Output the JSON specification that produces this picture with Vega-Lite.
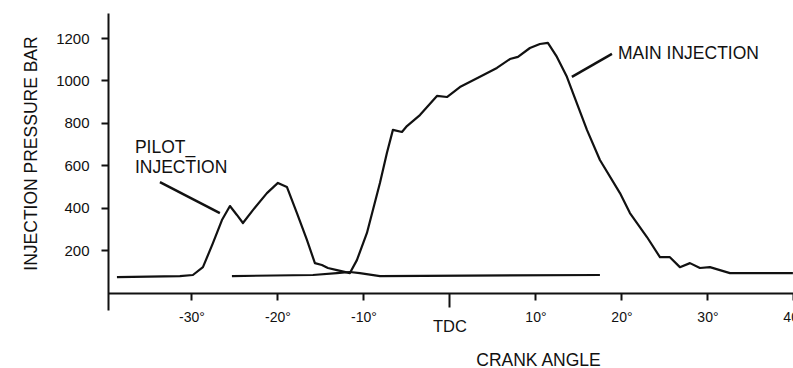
{
  "$schema": "https://vega.github.io/schema/vega-lite/v6.json",
  "width": 688,
  "height": 297,
  "autosize": {"type": "none"},
  "padding": {"left": 108, "top": 13, "right": 0, "bottom": 58},
  "background": "white",
  "config": {
    "view": {"stroke": null},
    "font": "Liberation Sans",
    "axis": {"grid": false, "domainColor": "#111", "tickColor": "#111", "labelColor": "#111", "titleColor": "#111", "labelFont": "Liberation Sans", "titleFont": "Liberation Sans", "titleFontWeight": "normal"}
  },
  "datasets": {
    "main": [
      {"deg": -38.66, "p": 73}, {"deg": -31.34, "p": 78}, {"deg": -29.83, "p": 83}, {"deg": -28.66, "p": 120},
      {"deg": -27.5, "p": 233}, {"deg": -26.45, "p": 342}, {"deg": -25.52, "p": 408}, {"deg": -24.71, "p": 366},
      {"deg": -24.01, "p": 328}, {"deg": -22.85, "p": 389}, {"deg": -21.22, "p": 469}, {"deg": -19.94, "p": 517},
      {"deg": -18.9, "p": 498}, {"deg": -17.73, "p": 375}, {"deg": -16.57, "p": 248}, {"deg": -15.64, "p": 139},
      {"deg": -14.83, "p": 130}, {"deg": -14.13, "p": 116}, {"deg": -13.08, "p": 106}, {"deg": -11.57, "p": 92},
      {"deg": -10.76, "p": 153}, {"deg": -9.59, "p": 281}, {"deg": -8.08, "p": 517}, {"deg": -7.27, "p": 658},
      {"deg": -6.57, "p": 767}, {"deg": -5.52, "p": 757}, {"deg": -4.94, "p": 785}, {"deg": -3.43, "p": 837},
      {"deg": -1.45, "p": 927}, {"deg": -0.29, "p": 922}, {"deg": 1.22, "p": 969}, {"deg": 3.55, "p": 1017},
      {"deg": 5.52, "p": 1059}, {"deg": 7.03, "p": 1101}, {"deg": 7.97, "p": 1111}, {"deg": 9.36, "p": 1153},
      {"deg": 10.52, "p": 1172}, {"deg": 11.45, "p": 1177}, {"deg": 12.5, "p": 1111}, {"deg": 13.66, "p": 1017},
      {"deg": 14.36, "p": 941}, {"deg": 15.99, "p": 767}, {"deg": 17.5, "p": 625}, {"deg": 19.83, "p": 469},
      {"deg": 20.99, "p": 375}, {"deg": 22.97, "p": 262}, {"deg": 24.48, "p": 167}, {"deg": 25.64, "p": 167},
      {"deg": 26.8, "p": 120}, {"deg": 27.97, "p": 139}, {"deg": 29.13, "p": 116}, {"deg": 30.29, "p": 120},
      {"deg": 32.62, "p": 92}, {"deg": 39.94, "p": 92}
    ],
    "base": [
      {"deg": -25.29, "p": 78}, {"deg": -15.87, "p": 83}, {"deg": -13.08, "p": 92}, {"deg": -11.57, "p": 97},
      {"deg": -10.41, "p": 92}, {"deg": -8.08, "p": 78}, {"deg": 17.5, "p": 83}
    ],
    "leaders": [
      {"deg": 18.9, "p": 1125, "deg2": 14.24, "p2": 1017},
      {"deg": -33.66, "p": 521, "deg2": -26.69, "p2": 375}
    ],
    "labels": [
      {"deg": 19.6, "p": 1101, "text": "MAIN INJECTION"},
      {"deg": -36.57, "p": 658, "text": "PILOT_"},
      {"deg": -36.57, "p": 564, "text": "INJECTION"}
    ]
  },
  "layer": [
    {
      "data": {"name": "main"},
      "mark": {"type": "line", "stroke": "#111", "strokeWidth": 2.2, "strokeJoin": "round"},
      "encoding": {
        "x": {
          "field": "deg", "type": "quantitative",
          "scale": {"domain": [-39.7, 40.3], "nice": false, "zero": false},
          "axis": {
            "title": "CRANK ANGLE",
            "offset": -17,
            "values": [-30, -20, -10, 0, 10, 20, 30, 40],
            "labelExpr": "datum.value === 0 ? 'TDC' : datum.value + '°'",
            "domainWidth": 2,
            "tickWidth": 2,
            "tickSize": {"condition": {"test": "datum.value === 0", "value": 14}, "value": 7},
            "labelPadding": {"condition": {"test": "datum.value === 0", "value": 11}, "value": 10},
            "labelFontSize": {"condition": {"test": "datum.value === 0", "value": 16.5}, "value": 14},
            "labelFlush": false,
            "labelOverlap": false,
            "titleFontSize": 17.5,
            "titleX": 430,
            "titleY": 72,
            "titleAlign": "center",
            "titleBaseline": "alphabetic"
          }
        },
        "y": {
          "field": "p", "type": "quantitative",
          "scale": {"domain": [-82, 1318], "nice": false, "zero": false},
          "axis": {
            "title": "INJECTION PRESSURE BAR",
            "values": [200, 400, 600, 800, 1000, 1200],
            "format": "d",
            "domainWidth": 2,
            "tickWidth": 2,
            "tickSize": 7,
            "labelPadding": 12,
            "labelFontSize": 15,
            "titleFontSize": 17.5,
            "titleX": -77,
            "titleY": 140,
            "titleAlign": "center",
            "titleBaseline": "middle",
            "titleAngle": -90
          }
        }
      }
    },
    {
      "data": {"name": "base"},
      "mark": {"type": "line", "stroke": "#111", "strokeWidth": 2.2},
      "encoding": {
        "x": {"field": "deg", "type": "quantitative"},
        "y": {"field": "p", "type": "quantitative"}
      }
    },
    {
      "data": {"name": "leaders"},
      "mark": {"type": "rule", "stroke": "#111", "strokeWidth": 2.5},
      "encoding": {
        "x": {"field": "deg", "type": "quantitative"},
        "y": {"field": "p", "type": "quantitative"},
        "x2": {"field": "deg2"},
        "y2": {"field": "p2"}
      }
    },
    {
      "data": {"name": "labels"},
      "mark": {"type": "text", "align": "left", "baseline": "alphabetic", "fontSize": 17.5, "fill": "#111", "font": "Liberation Sans"},
      "encoding": {
        "x": {"field": "deg", "type": "quantitative"},
        "y": {"field": "p", "type": "quantitative"},
        "text": {"field": "text"}
      }
    }
  ]
}
